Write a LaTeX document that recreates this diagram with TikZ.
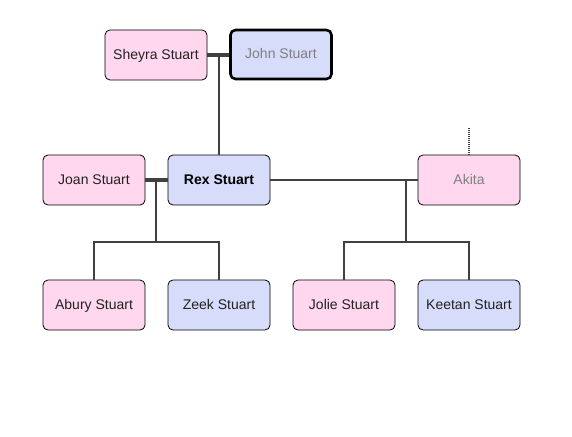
\documentclass[tikz,border=0pt]{standalone}
\usepackage{fontspec}
\setmainfont{Liberation Sans}
\definecolor{pinkf}{HTML}{FFD7EE}
\definecolor{bluef}{HTML}{D6DCFA}
\definecolor{linec}{HTML}{404040}
\definecolor{txt}{HTML}{222222}
\definecolor{dead}{HTML}{808080}
\begin{document}
\begin{tikzpicture}[x=1pt,y=-1pt,
  person/.style={draw=black, line width=0.8pt, rounded corners=5pt, minimum width=102pt, minimum height=50pt, inner sep=0pt, text height=10.5pt, text depth=1.5pt, font=\fontsize{14}{16}\selectfont, text=txt},
  female/.style={person, fill=pinkf},
  male/.style={person, fill=bluef},
  link/.style={draw=linec, line width=2pt},
  couple/.style={draw=linec, line width=4pt}]
\useasboundingbox (0,0) rectangle (572,436);
\fill[white] (0,0) rectangle (572,436);
\node[female] (sheyra) at (156,55) {Sheyra Stuart};
\node[male, line width=2.6pt, text=dead, minimum width=101pt, minimum height=49pt] (john) at (281,54.5) {John Stuart};
\node[female] (joan) at (94,180) {Joan Stuart};
\node[male, font=\fontsize{14}{16}\selectfont\bfseries, text=black] (rex) at (219,180) {Rex Stuart};
\node[female, text=dead] (akita) at (469,180) {Akita};
\node[female] (abury) at (94,305) {Abury Stuart};
\node[male] (zeek) at (219,305) {Zeek Stuart};
\node[female] (jolie) at (344,305) {Jolie Stuart};
\node[male] (keetan) at (469,305) {Keetan Stuart};
% couples
\draw[couple] (sheyra.east) -- (sheyra.east -| john.west);
\coordinate (m1) at (219,55);
\draw[link] (m1) -- (rex.north);
\draw[couple] (joan.east) -- (rex.west);
\coordinate (m2) at (156,180);
\coordinate (b2) at (156,242);
\draw[link] (m2) -- (b2);
\draw[link] (abury.north) |- (b2) -| (zeek.north);
\draw[link] (rex.east) -- (akita.west);
\coordinate (m3) at (406,180);
\coordinate (b3) at (406,242);
\draw[link] (m3) -- (b3);
\draw[link] (jolie.north) |- (b3) -| (keetan.north);
\coordinate (up) at (469,128);
\draw[draw=linec, line width=1.5pt, dash pattern=on 1pt off 1pt] (up) -- (akita.north);
\end{tikzpicture}
\end{document}
